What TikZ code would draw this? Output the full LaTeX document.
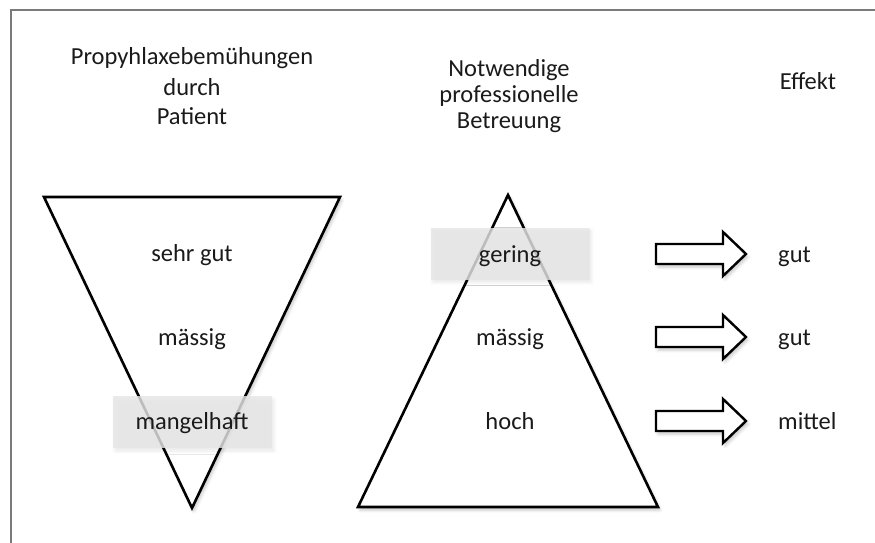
\documentclass[tikz,border=0pt]{standalone}
\usepackage{fontspec}
\setmainfont{Carlito}
\usetikzlibrary{shadows.blur}
\definecolor{framegray}{HTML}{7A7A7A}
\definecolor{boxgray}{HTML}{E6E6E6}
\definecolor{txt}{HTML}{1A1A1A}
\begin{document}
\begin{tikzpicture}[x=1pt,y=-1pt,
  lbl/.style={anchor=base,inner sep=0pt,text=txt,font=\fontsize{24.5}{29}\selectfont},
  tri/.style={draw=black,line width=2.6pt,line join=miter,fill=white,
    blur shadow={shadow xshift=2pt,shadow yshift=-3pt,shadow blur radius=3pt,shadow opacity=22}},
  hlbox/.style={fill=boxgray,fill opacity=0.82,draw=none,minimum width=159pt,minimum height=52pt,inner sep=0pt,
    blur shadow={shadow xshift=2pt,shadow yshift=-3pt,shadow blur radius=3pt,shadow opacity=10}},
  bigarrow/.style={draw=black,line width=2.4pt,line join=miter,fill=white,
    blur shadow={shadow xshift=2pt,shadow yshift=-3pt,shadow blur radius=3pt,shadow opacity=22}},
  frameline/.style={draw=framegray,line width=1.6pt}
]
\useasboundingbox (0,0) rectangle (875,543);
% frame
\coordinate (fbl) at (11,543);
\coordinate (ftl) at (11,10);
\coordinate (ftr) at (875,10);
\draw[frameline] (fbl) -- (ftl) -- (ftr);

% headings
\node[lbl] (h1a) at (192,65) {Propyhlaxebemühungen};
\node[lbl] (h1b) at (192,95) {durch};
\node[lbl] (h1c) at (192,124) {Patient};
\node[lbl] (h2a) at (509,77) {Notwendige};
\node[lbl] (h2b) at (509,102) {professionelle};
\node[lbl] (h2c) at (509,128) {Betreuung};
\node[lbl] (h3) at (808,89) {Effekt};

% inverted triangle
\coordinate (itl) at (44,197);
\coordinate (itr) at (340,197);
\coordinate (iap) at (192,508);
\draw[tri] (itl) -- (itr) -- (iap) -- cycle;

% upright triangle
\coordinate (uap) at (508,195);
\coordinate (ubr) at (658,507);
\coordinate (ubl) at (358,507);
\draw[tri] (uap) -- (ubr) -- (ubl) -- cycle;

% highlight boxes
\node[hlbox] (bx1) at (510,253.5) {};
\node[hlbox] (bx2) at (192.5,422) {};

% texts in inverted triangle
\node[lbl] (t1) at (192,261) {sehr gut};
\node[lbl] (t2) at (192,345) {mässig};
\node[lbl] (t3) at (192,429) {mangelhaft};
% texts in upright triangle
\node[lbl] (u1) at (510,262) {gering};
\node[lbl] (u2) at (510,345) {mässig};
\node[lbl] (u3) at (510,429) {hoch};

% arrows
\foreach \n/\yy in {a1/254,a2/337,a3/421}{
  \coordinate (\n) at (656,\yy);
  \draw[bigarrow] (\n) ++(0,-10) -- ++(67,0) -- ++(0,-12) -- ++(23,22) -- ++(-23,22) -- ++(0,-12) -- ++(-67,0) -- cycle;
}

% effects
\node[lbl,anchor=base west] (e1) at (778,262) {gut};
\node[lbl,anchor=base west] (e2) at (778,345) {gut};
\node[lbl,anchor=base west] (e3) at (778,429) {mittel};
\end{tikzpicture}
\end{document}
